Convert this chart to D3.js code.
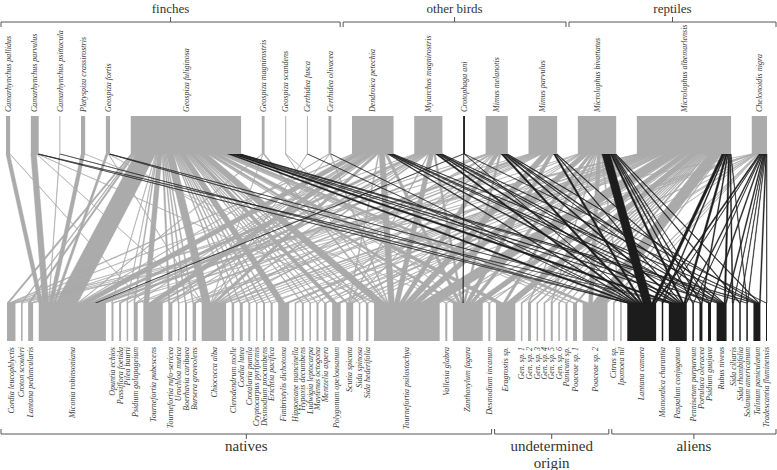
<!DOCTYPE html>
<html><head><meta charset="utf-8">
<script src="https://cdn.jsdelivr.net/npm/d3@7"></script>
<style>body{margin:0;background:#fff}svg{display:block}</style>
</head><body><svg id="c" width="777" height="470"></svg>
<script>
// ---------- DATA ----------
const animals = ["Camarhynchus pallidus","Camarhynchus parvulus","Camarhynchus psittacula","Platyspiza crassirostris","Geospiza fortis","Geospiza fuliginosa","Geospiza magnirostris","Geospiza scandens","Certhidea fusca","Certhidea olivacea","Dendroica petechia","Myiarchus magnirostris","Crotophaga ani","Mimus melanotis","Mimus parvulus","Microlophus bivattatus","Microlophus albemarlensis","Chelonoidis nigra"];
const animalGroupNames = ["finches","other birds","reptiles"];
const animalGroupOf = [0,0,0,0,0,0,0,0,0,0,1,1,1,1,1,2,2,2];
const darkAnimals = ["Crotophaga ani"];

const plants = ["Cordia leucophlyctis","Croton scouleri","Lantana peduncularis","Miconia robinsoniana","Opuntia echios","Passiflora foetida","Pilea baurii","Psidium galapageium","Tournefortia pubescens","Tournefortia rufo-sericea","Urochloa mutica","Boerhavia caribaea","Bursera graveolens","Chiococca alba","Clerodendrum molle","Cordia lutea","Crotalaria pumila","Cryptocarpus pyriformis","Desmodium procumbens","Erichtia pacifica","Fimbristylis dichotoma","Hippomane mancinella","Hypoxis decumbens","Ludwigia leptocarpa","Maytenus octogona","Mentzelia aspera","Polygonum opelousanum","Scutia spicata","Sida spinosa","Sida hederifolia","Tournefortia psilostachya","Vallesia glabra","Zanthoxylum fagara","Desmodium incanum","Eragrostis sp.","Gen. sp. 1","Gen. sp. 2","Gen. sp. 3","Gen. sp. 4","Gen. sp. 5","Gen. sp. 6","Panicum sp.","Poaceae sp. 1","Poaceae sp. 2","Citrus sp.","Ipomoea nil","Lantana camara","Momordica charantia","Paspalum conjugatum","Pennisetum purpureum","Portulaca oleracea","Psidium guajava","Rubus niveus","Sida ciliaris","Sida rhombifolia","Solanum americanum","Talinum paniculatum","Tradescantia fluminensis"];
const plantGroupNames = ["natives","undetermined|origin","aliens"];
const plantGroupOf = [0,0,0,0,0,0,0,0,0,0,0,0,0,0,0,0,0,0,0,0,0,0,0,0,0,0,0,0,0,0,0,0,0,0,1,1,1,1,1,1,1,1,1,1,2,2,2,2,2,2,2,2,2,2,2,2,2,2];
const darkPlants = ["Lantana camara","Momordica charantia","Paspalum conjugatum","Pennisetum purpureum","Portulaca oleracea","Psidium guajava","Rubus niveus","Sida ciliaris","Sida rhombifolia","Solanum americanum","Talinum paniculatum","Tradescantia fluminensis"];

// [animal index, plant index, number of interactions]
const links = [
 [0,3,8],[0,8,1],
 [1,3,12],[1,13,1],[1,30,2],[1,46,1],[1,48,1],
 [2,3,1],[2,46,1],
 [3,3,8],[3,32,1],
 [4,3,5],[4,13,1],[4,30,1],[4,46,1],[4,48,1],
 [5,0,4],[5,1,2],[5,2,4],[5,3,44],[5,4,1],[5,6,1],[5,7,2],[5,8,10],[5,9,3],[5,10,2],[5,11,2],[5,12,2],[5,13,16],[5,14,2],[5,15,2],[5,16,2],[5,17,1],[5,18,3],[5,19,2],[5,20,14],[5,22,2],[5,23,2],[5,24,2],[5,25,2],[5,26,10],[5,27,4],[5,28,2],[5,29,3],[5,30,20],[5,31,2],[5,32,8],[5,33,2],[5,34,14],[5,41,2],[5,42,4],[5,43,12],[5,46,8],[5,48,10],[5,50,2],[5,52,4],[5,55,1],[5,56,4],
 [6,3,2],[6,13,1],[6,30,3],
 [7,30,1],[7,32,1],
 [8,13,1],[8,46,1],
 [9,3,2],[9,13,1],[9,30,2],[9,46,1],
 [10,0,4],[10,3,20],[10,5,2],[10,6,2],[10,7,2],[10,8,16],[10,9,3],[10,13,8],[10,27,2],[10,30,12],[10,32,6],[10,46,3],[10,48,4],[10,51,1],[10,52,3],[10,56,2],
 [11,0,2],[11,3,12],[11,5,2],[11,8,6],[11,9,2],[11,12,2],[11,13,4],[11,27,2],[11,30,10],[11,32,4],[11,46,5],[11,48,4],[11,51,1],[11,52,3],[11,56,2],
 [12,3,1],[12,32,1],[12,46,1],[12,57,1],
 [13,2,2],[13,3,8],[13,13,4],[13,14,1],[13,24,2],[13,27,2],[13,30,10],[13,32,4],[13,46,5],[13,48,4],[13,51,1],[13,52,3],[13,56,2],
 [14,0,2],[14,3,12],[14,7,2],[14,8,6],[14,12,1],[14,13,4],[14,15,2],[14,30,16],[14,32,9],[14,46,4],[14,48,2],[14,52,2],
 [15,4,1],[15,12,2],[15,21,2],[15,25,1],[15,27,2],[15,30,16],[15,32,8],[15,34,6],[15,36,2],[15,39,2],[15,43,8],[15,45,2],[15,46,18],[15,48,4],[15,49,2],[15,50,2],[15,51,1],[15,54,2],[15,56,2],
 [16,0,4],[16,1,1],[16,2,4],[16,4,2],[16,7,2],[16,10,1],[16,11,2],[16,13,8],[16,14,2],[16,15,2],[16,16,2],[16,17,2],[16,19,2],[16,20,8],[16,22,2],[16,25,2],[16,26,6],[16,27,2],[16,28,1],[16,29,2],[16,30,36],[16,31,2],[16,32,17],[16,33,2],[16,34,18],[16,35,2],[16,36,4],[16,37,3],[16,38,2],[16,39,2],[16,40,3],[16,41,2],[16,42,4],[16,43,28],[16,44,2],[16,46,6],[16,47,2],[16,48,4],[16,50,2],[16,52,3],[16,53,2],[16,55,1],
 [17,0,1],[17,18,1],[17,21,1],[17,23,1],[17,26,1],[17,30,3],[17,32,1],[17,34,1],[17,35,1],[17,38,1],[17,43,2],[17,44,1],[17,45,1],[17,46,3],[17,47,1],[17,48,2],[17,49,1],[17,51,2],[17,52,2],[17,53,1],[17,54,1],[17,55,1],[17,56,2],[17,57,1]
];

// ---------- LAYOUT ----------
const W = 777;
const GRAY = "#ababab", DARK = "#1c1c1c", INK = "#3a3a3a", BR = "#555";
const topY0 = 116, topY1 = 154, botY0 = 303, botY1 = 341;
const svg = d3.select("#c");
const FONT = "'Liberation Serif','Times New Roman',serif";

const aTot = animals.map((_, i) => d3.sum(links.filter(l => l[0] === i), l => l[2]));
const pTot = plants.map((_, i) => d3.sum(links.filter(l => l[1] === i), l => l[2]));

function layout(names, totals, x0, x1, gap) {
  const S = d3.sum(totals);
  const w = d3.scaleLinear().domain([0, S]).range([0, x1 - x0 - gap * (names.length - 1)]);
  let cum = 0;
  return names.map((n, i) => {
    const a = x0 + i * gap + w(cum);
    cum += totals[i];
    return {name: n, i, x0: a, x1: x0 + i * gap + w(cum), w};
  });
}
const topNodes = layout(animals, aTot, 6, 767, 20.7);
const botNodes = layout(plants, pTot, 7, 767, 5.6);

// segment offsets within boxes
const L = links.map(([a, p, v]) => ({a, p, v}));
topNodes.forEach(n => {
  let off = n.x0;
  L.filter(l => l.a === n.i).sort((x, y) => x.p - y.p).forEach(l => {
    l.t0 = off; off += n.w(l.v); l.t1 = off;
  });
});
botNodes.forEach(n => {
  let off = n.x0;
  L.filter(l => l.p === n.i).sort((x, y) => x.a - y.a).forEach(l => {
    l.b0 = off; off += n.w(l.v); l.b1 = off;
  });
});
const isDark = l => darkAnimals.includes(animals[l.a]) || darkPlants.includes(plants[l.p]);

// links: gray first, dark on top
const linkG = svg.append("g");
const ordered = L.filter(l => !isDark(l)).concat(L.filter(isDark));
linkG.selectAll("path").data(ordered).join("path")
  .attr("d", l => `M${l.t0},${topY1}L${l.t1},${topY1}L${l.b1},${botY0}L${l.b0},${botY0}Z`)
  .attr("fill", l => isDark(l) ? DARK : GRAY)
  .attr("stroke", l => isDark(l) ? DARK : GRAY)
  .attr("stroke-width", 0.45);

// boxes
svg.append("g").selectAll("rect").data(topNodes).join("rect")
  .attr("x", d => d.x0).attr("y", topY0)
  .attr("width", d => Math.max(0.8, d.x1 - d.x0)).attr("height", topY1 - topY0)
  .attr("fill", d => darkAnimals.includes(d.name) ? DARK : GRAY);
svg.append("g").selectAll("rect").data(botNodes).join("rect")
  .attr("x", d => d.x0).attr("y", botY0)
  .attr("width", d => Math.max(0.8, d.x1 - d.x0)).attr("height", botY1 - botY0)
  .attr("fill", d => darkPlants.includes(d.name) ? DARK : GRAY);

// species labels
svg.append("g").selectAll("text").data(topNodes).join("text")
  .attr("transform", d => `translate(${(d.x0 + d.x1) / 2},112) rotate(-90)`)
  .attr("dy", "0.33em").attr("text-anchor", "start")
  .attr("font-family", FONT).attr("font-style", "italic").attr("font-size", 8).attr("fill", INK)
  .text(d => d.name);
svg.append("g").selectAll("text").data(botNodes).join("text")
  .attr("transform", d => `translate(${(d.x0 + d.x1) / 2},347) rotate(-90)`)
  .attr("dy", "0.33em").attr("text-anchor", "end")
  .attr("font-family", FONT).attr("font-style", "italic").attr("font-size", 8).attr("fill", INK)
  .text(d => d.name);

// group brackets
function brackets(nodes, groupOf, names, y, dir, labelY, fs) {
  const groups = names.map((nm, g) => {
    const ns = nodes.filter((_, i) => groupOf[i] === g);
    return {nm, first: ns[0], last: ns[ns.length - 1]};
  });
  groups.forEach((g, k) => {
    const left = k === 0 ? 1 : (groups[k - 1].last.x1 + g.first.x0) / 2 + 1.5;
    const right = k === groups.length - 1 ? W - 1 : (g.last.x1 + groups[k + 1].first.x0) / 2 - 1.5;
    const mid = (left + right) / 2;
    const gg = svg.append("g").attr("fill", "none").attr("stroke", BR).attr("stroke-width", 1);
    gg.append("path").attr("d", `M${left},${y + 5 * dir}V${y}H${right}V${y + 5 * dir}M${mid},${y}V${y - 5 * dir}`);
    const lines = g.nm.split("|");
    lines.forEach((t, j) => {
      svg.append("text").attr("x", mid).attr("y", labelY + j * 16.5)
        .attr("text-anchor", "middle").attr("font-family", FONT).attr("font-size", fs)
        .attr("fill", "#333").text(t);
    });
  });
}
brackets(topNodes, animalGroupOf, animalGroupNames, 22, 1, 13, 13);
brackets(botNodes, plantGroupOf, plantGroupNames, 434, -1, 451, 15);
</script></body></html>
